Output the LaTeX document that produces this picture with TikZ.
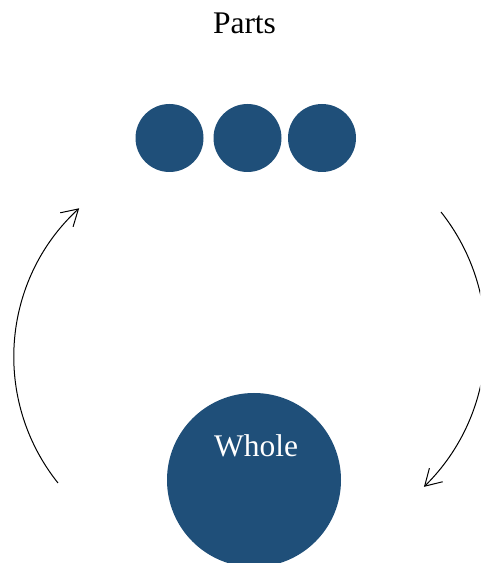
\documentclass[tikz,border=0pt]{standalone}
\usepackage{fontspec}
\setmainfont{Liberation Serif}
\usetikzlibrary{arrows.meta}
\definecolor{partblue}{RGB}{31,79,121}

\begin{document}
\begin{tikzpicture}[x=1pt,y=1pt,
  part/.style={circle,fill=partblue,minimum size=68pt,inner sep=0pt},
  flow/.style={-{Straight Barb[length=16pt,width=19pt]},line width=1pt}]
\useasboundingbox (0,0) rectangle (480,563);
\clip (0,0) rectangle (480,563);
\node[anchor=base,font=\fontsize{31.5}{36}\selectfont] (title) at (244.5,529.7) {Parts};
\node[part] (p1) at (169.5,425) {};
\node[part] (p2) at (247.5,425) {};
\node[part] (p3) at (322,425) {};
\node[circle,fill=partblue,minimum size=174pt,inner sep=0pt] (whole) at (254,83) {};
\node[anchor=base,text=white,font=\fontsize{31.5}{36}\selectfont] (wlabel) at (256,106.3) {Whole};
\coordinate (up) at (58,80);
\coordinate (down) at (441,351);
\draw[flow] (up) arc[start angle=218.6,end angle=132.6,radius=202];
\draw[flow] (down) arc[start angle=38.4,end angle=-45.5,radius=206];
\end{tikzpicture}
\end{document}
